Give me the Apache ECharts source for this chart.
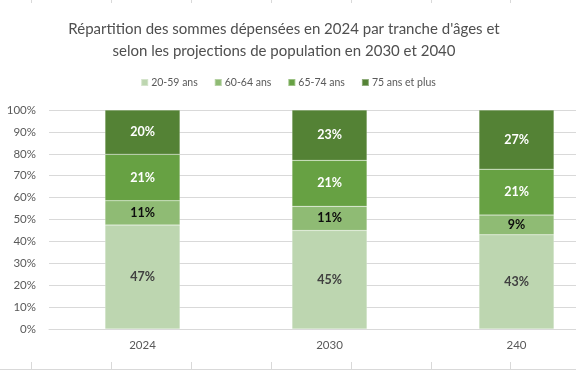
<!DOCTYPE html>
<html>
<head>
<meta charset="utf-8">
<script src="https://cdn.jsdelivr.net/npm/echarts@6/dist/echarts.min.js"></script>
<style>html,body{margin:0;padding:0;background:#fff;}#c{width:576px;height:371px;}</style>
</head>
<body>
<div id="c"></div>
<script>
const categories = ['2024', '2030', '240'];
const seriesNames = ['20-59 ans', '60-64 ans', '65-74 ans', '75 ans et plus'];
const v2059 = [47, 45, 43];
const v6064 = [11, 11, 9];
const v6574 = [21, 21, 21];
const v75 = [20, 23, 27];
const yTicks = ['0%', '10%', '20%', '30%', '40%', '50%', '60%', '70%', '80%', '90%', '100%'];

const raw = [v2059, v6064, v6574, v75];
const totals = categories.map((_, i) => raw.reduce((s, a) => s + a[i], 0));
const colors = ['#BDD6B0', '#8FBB74', '#67A143', '#548235'];
const labelColors = ['#404040', '#0D0D0D', '#FFFFFF', '#FFFFFF'];
const FONT = 'Lato';

const chart = echarts.init(document.getElementById('c'), null, {renderer: 'canvas'});

const cellX = [31, 111, 191, 271, 351, 431, 510];
const graphics = [];
cellX.forEach(x => {
  graphics.push({type: 'line', shape: {x1: x + 0.5, y1: 0, x2: x + 0.5, y2: 3}, style: {stroke: '#D9D9D9', lineWidth: 1}});
  graphics.push({type: 'line', shape: {x1: x + 0.5, y1: 362, x2: x + 0.5, y2: 369}, style: {stroke: '#D9D9D9', lineWidth: 1}});
});
graphics.push({type: 'line', shape: {x1: 0, y1: 369.5, x2: 576, y2: 369.5}, style: {stroke: '#D9D9D9', lineWidth: 1}});

chart.setOption({
  animation: false,
  textStyle: {fontFamily: FONT},
  title: {
    text: 'Répartition des sommes dépensées en 2024 par tranche d\'âges et\nselon les projections de population en 2030 et 2040',
    left: 279, top: 13, textAlign: 'center',
    textStyle: {fontFamily: FONT, fontSize: 15, fontWeight: 'normal', color: '#4F4F4F', lineHeight: 22}
  },
  legend: {
    data: seriesNames, left: 'center', top: 72,
    itemWidth: 7, itemHeight: 7, itemGap: 16,
    icon: 'rect',
    textStyle: {fontFamily: FONT, fontSize: 10.5, color: '#595959', padding: [0, 0, 0, -2]}
  },
  grid: {left: 49, width: 561, top: 110, bottom: 42, containLabel: false, outerBoundsMode: 'none'},
  xAxis: {
    type: 'category', data: categories,
    axisLine: {show: true, lineStyle: {color: '#D9D9D9'}},
    axisTick: {show: false},
    axisLabel: {color: '#595959', fontSize: 11.5, margin: 10, fontFamily: FONT}
  },
  yAxis: {
    type: 'value', min: 0, max: 100, interval: 10,
    axisLine: {show: false}, axisTick: {show: false},
    splitLine: {lineStyle: {color: '#D9D9D9'}},
    axisLabel: {color: '#595959', fontSize: 11.5, margin: 13, fontFamily: FONT,
      formatter: v => yTicks[Math.round(v / 10)]}
  },
  series: raw.map((arr, k) => ({
    name: seriesNames[k], type: 'bar', stack: 'tot', barWidth: 75,
    itemStyle: {color: colors[k], borderColor: 'rgba(255,255,255,0.35)', borderWidth: 0.5},
    label: {
      show: true, position: 'inside', fontFamily: FONT, fontSize: 12.5, fontWeight: 'bold',
      color: labelColors[k],
      formatter: p => arr[p.dataIndex] + '%'
    },
    data: arr.map((v, i) => v / totals[i] * 100)
  })),
  graphic: graphics
});
</script>
</body>
</html>
